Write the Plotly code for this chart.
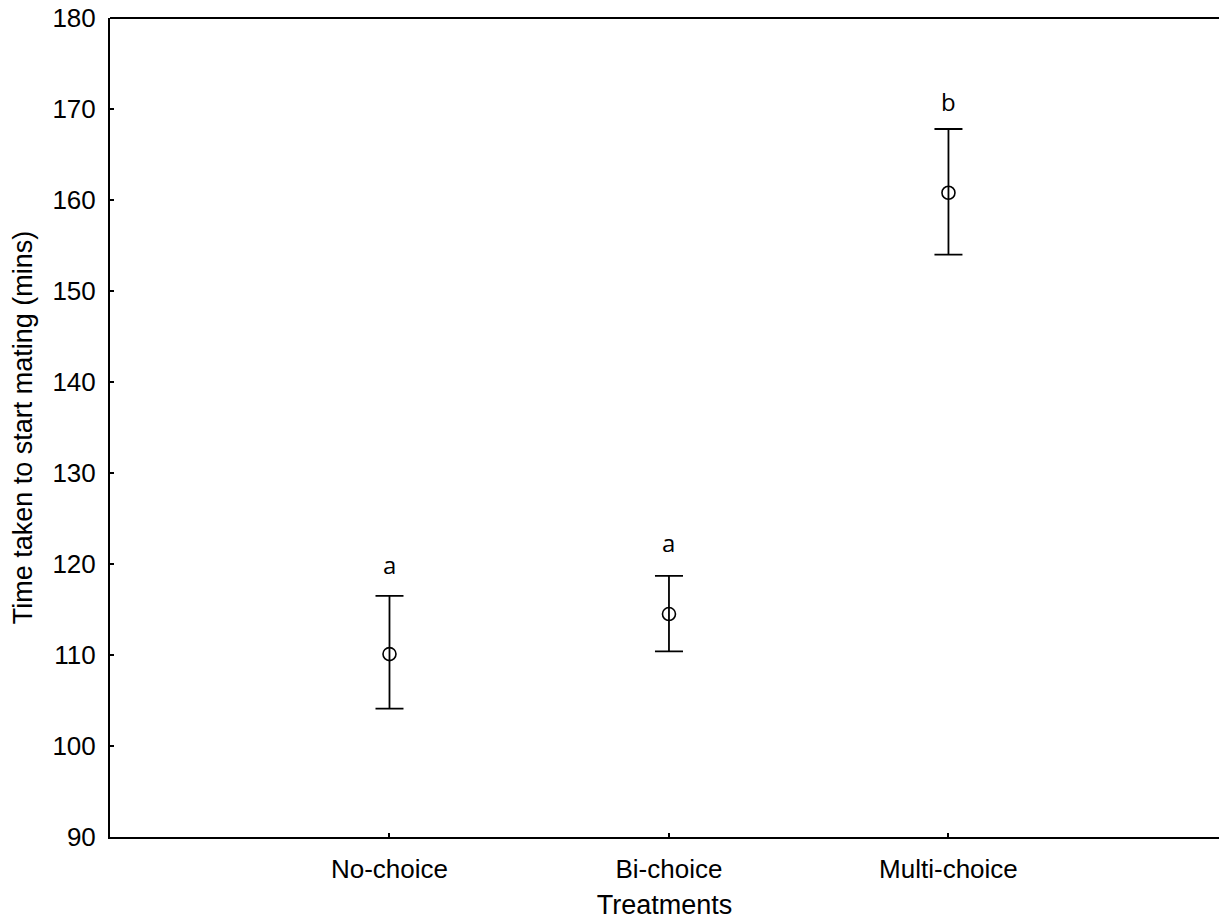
import plotly.graph_objects as go

categories = ["No-choice", "Bi-choice", "Multi-choice"]
cat_pos = [1, 2, 3]
means = [110.1, 114.5, 160.8]
upper = [116.5, 118.7, 167.8]
lower = [104.1, 110.4, 154.0]
letters = ["a", "a", "b"]
letter_y = [120.0, 122.4, 170.8]

err_plus = [u - m for u, m in zip(upper, means)]
err_minus = [m - l for m, l in zip(means, lower)]

fig = go.Figure()
fig.add_trace(go.Scatter(
    x=cat_pos, y=means, mode="markers",
    marker=dict(symbol="circle-open", size=13, color="black", line=dict(width=1.6, color="black")),
    error_y=dict(type="data", symmetric=False, array=err_plus, arrayminus=err_minus,
                 color="black", thickness=1.8, width=14),
    showlegend=False, hoverinfo="skip",
))

for x, y, t in zip(cat_pos, letter_y, letters):
    fig.add_annotation(x=x, y=y, text=t, showarrow=False, xref="x", yref="y",
                       font=dict(family="Open Sans", size=24, color="black"))

# top frame line (no right border, as in the reference)
fig.add_shape(type="line", xref="paper", yref="paper", x0=0, x1=1, y0=1, y1=1,
              line=dict(color="black", width=2))

font = dict(family="Liberation Sans, Arial", size=26, color="black")
tfont = dict(family="Liberation Sans, Arial", size=27, color="black")

fig.update_layout(
    width=1219, height=921,
    margin=dict(l=110, r=0, t=18, b=84, pad=0),
    paper_bgcolor="white", plot_bgcolor="white",
    font=font,
    xaxis=dict(
        range=[0, 3.968], tickvals=cat_pos, ticktext=categories,
        showgrid=False, zeroline=False, showline=True, linecolor="black", linewidth=2,
        ticks="inside", ticklen=4, tickwidth=1.5, tickcolor="black",
        tickfont=font, ticklabelstandoff=8,
        title=dict(text="Treatments", font=tfont, standoff=12),
    ),
    yaxis=dict(
        range=[90, 180], tickvals=list(range(90, 181, 10)),
        showgrid=False, zeroline=False, showline=True, linecolor="black", linewidth=2,
        ticks="inside", ticklen=4, tickwidth=1.5, tickcolor="black",
        tickfont=font, ticklabelstandoff=7,
        title=dict(text="Time taken to start mating (mins)", font=tfont, standoff=12),
    ),
)

fig.write_html("out.html")
